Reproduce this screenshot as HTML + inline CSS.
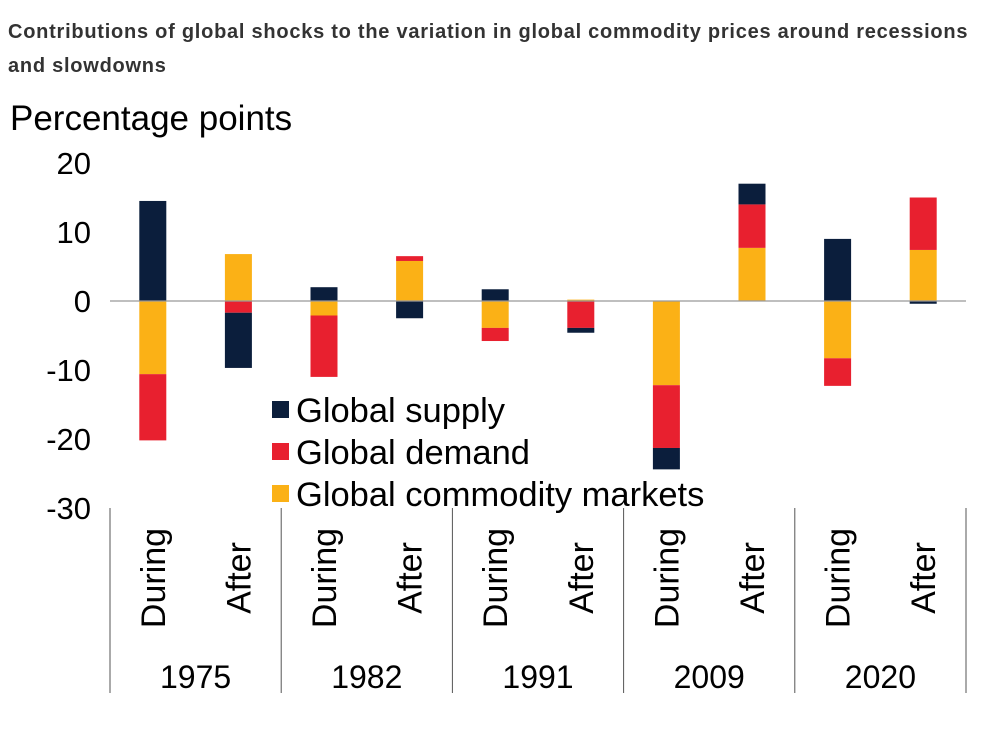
<!DOCTYPE html>
<html><head><meta charset="utf-8"><style>
body{margin:0;background:#fff;width:1000px;height:731px;overflow:hidden;font-family:"Liberation Sans",sans-serif}
#title{position:absolute;left:8px;top:15px;width:992px;font-size:20px;letter-spacing:0.75px;font-weight:bold;color:#333;line-height:34px;white-space:nowrap}
svg{position:absolute;left:0;top:0}
</style></head><body>
<div id="title">Contributions of global shocks to the variation in global commodity prices around recessions<br>and slowdowns</div>
<svg id="chart" width="1000" height="731"></svg>
<script>
const years=["1975","1982","1991","2009","2020"];
const phases=["During","After"];
const supply=[14.5,-8.0,2.0,-2.5,1.7,-0.7,-3.1,3.0,9.0,-0.4];
const demand=[-9.6,-1.7,-8.9,0.7,-1.9,-3.9,-9.1,6.3,-4.0,7.6];
const commodity=[-10.6,6.8,-2.1,5.8,-3.9,0.2,-12.2,7.7,-8.3,7.4];
const yTicks=[20,10,0,-10,-20,-30];
const svg=document.getElementById('chart');const NS='http://www.w3.org/2000/svg';
function y(v){return 301-v*6.9;}
const x0=110,slot=85.6,bw=27;
function xc(i){return x0+slot*(i+0.5);}
function el(t,a,txt){const e=document.createElementNS(NS,t);for(const k in a)e.setAttribute(k,a[k]);if(txt!==undefined)e.textContent=txt;svg.appendChild(e);return e;}
let t=el('text',{x:10,y:130,'font-size':35,fill:'#000'},'Percentage points');

yTicks.forEach(v=>{const e=el('text',{x:91,y:y(v)+11,'font-size':31,'text-anchor':'end'},String(v));
});
const series=[["commodity",commodity,"#fbb116"],["demand",demand,"#e8202f"],["supply",supply,"#0b1e3c"]];
for(let i=0;i<supply.length;i++){let pos=0,neg=0;
series.forEach(s=>{const v=s[1][i];let a,b;if(v>=0){a=pos;b=pos+v;pos=b;}else{a=neg;b=neg+v;neg=b;}
const r=el('rect',{x:xc(i)-bw/2,y:Math.min(y(a),y(b)),width:bw,height:Math.abs(y(a)-y(b)),fill:s[2]});
});}
let z=el('line',{x1:x0,x2:966,y1:y(0),y2:y(0),stroke:'#999','stroke-width':1.2});

for(let g=0;g<=years.length;g++){const xx=x0+g*slot*2;const l=el('line',{x1:xx,x2:xx,y1:508,y2:693,stroke:'#555','stroke-width':1});
}
for(let i=0;i<supply.length;i++){const cx=xc(i)+12;const e=el('text',{x:0,y:0,'font-size':34,'text-anchor':'middle',transform:`translate(${cx},578) rotate(-90)`},phases[i%2]);
}
years.forEach((yr,g)=>{const e=el('text',{x:x0+slot*(2*g+1),y:688,'font-size':32,'text-anchor':'middle'},yr);
});
[["Global supply","#0b1e3c"],["Global demand","#e8202f"],["Global commodity markets","#fbb116"]].forEach((L,k)=>{const yy=410+k*42;
const s=el('rect',{x:272,y:yy-9,width:17,height:17,fill:L[1]});
const e=el('text',{x:296,y:yy+12,'font-size':34.5},L[0]);});
</script>
</body></html>
